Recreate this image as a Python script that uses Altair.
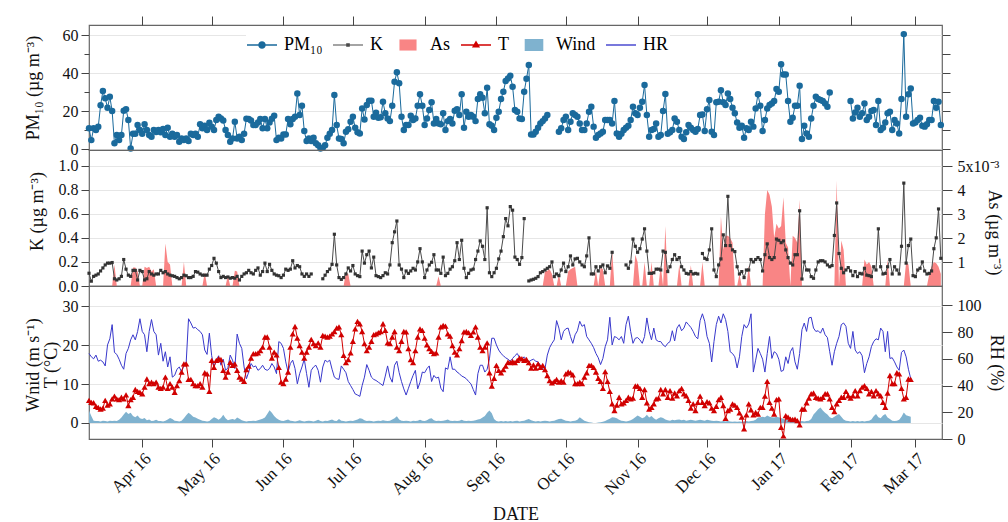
import altair as alt
import pandas as pd

FONT = "Liberation Serif"
START = "2016-03-09"
N_DAYS = 369

SERIES = ["PM₁₀", "K", "As", "T", "Wind", "HR"]
MONTH_TICKS = [(2016, 4), (2016, 5), (2016, 6), (2016, 7), (2016, 8), (2016, 9),
               (2016, 10), (2016, 11), (2016, 12), (2017, 1), (2017, 2), (2017, 3)]

PM10 = [
    10.9, 4.7, 10.9, 10, 11.7, 23, 30.5, 26.7, 21.7, 27.5,
    20, 3, 7.4, 4.7, 7.4, 20.2, 21, 15.3, 0.3, 8,
    8, 12.6, 10, 8, 13, 10, 7.4, 6.5, 10, 9,
    10, 8.8, 10.5, 7.4, 11.2, 6.5, 8, 6.5, 7.4, 3.9,
    5.6, 4.7, 5.6, 4.2, 8, 7.4, 8, 6.5, 13, 10.9,
    12.3, 10, 13.9, 11.8, 10, 15.3, 17, 16.1, 15, 10,
    7.4, 3.9, 5.6, 14.4, 5.6, 6.5, 4.7, 8, 16, 15.8,
    15, 12.6, 12.6, 14, 15.8, 10.9, 15.8, 10.9, 14, 16,
    17.5, 4.7, 6, 5.6, 7.7, 7.7, 15.8, 13, 15.8, 17,
    29.3, 17.9, 22.8, 9.5, 4.2, 5.6, 4.2, 6, 3, 2,
    0.3, 0.7, 2, 6, 8, 10, 28.4, 12.6, 5.6, 5.3,
    3, 9.1, 10.4, 14.4, 17, 11.2, 8.8, 8.2, 21.4, 15.6,
    23.2, 25.4, 25.4, 17, 19.1, 16.5, 16.7, 24.9, 18.8, 16.1,
    14.7, 22.8, 35.4, 40.4, 34.6, 17, 10, 12.6, 12.6, 17.5,
    15.3, 16.1, 22.8, 28.8, 22.8, 12.6, 16.1, 20.5, 24.6, 13.5,
    15.8, 13.5, 13, 18.8, 10, 14.7, 15.8, 13.5, 20.2, 21,
    17.9, 28.8, 11.2, 19.6, 17, 17.9, 17, 14.7, 26.3, 28.8,
    27, 18.8, 32.3, 13, 12.3, 10, 16.5, 19.6, 26.3, 30.2,
    35.8, 37.2, 38.6, 32.8, 20.5, 19.6, 16.1, 15.8, 30.2, 37,
    44.2, 7.7, 7.7, 9.1, 11.2, 13.5, 14.7, 16.1, 17.9, None,
    None, None, None, 9.1, 10.9, 15.3, 17, 10, 14.4, 18.8,
    17.9, 17, 13.5, 10, 10, 13.5, 19.6, 22.3, 11.8, 6,
    7.4, 8.2, 9.1, 15.3, 15.3, 15.3, 13.5, 25.3, 8.2, 6.5,
    8, 10, 11.2, 12.3, 15.3, 22.3, 18.8, 17.9, 21.7, 24.9,
    33.7, 17.9, 6.5, 10, 10.5, 13.5, 6.5, 7.4, 20, 29,
    8, 8.8, 10, 16.1, 14.4, 10, 6.5, 5.3, 8.8, 12.6,
    11.2, 10, 9.1, 10.5, 17.9, 18.2, 9.5, 21, 25.8, 9.1,
    7.4, 24.6, 24.9, 31, 24.6, 23.2, 29.3, 26.3, 21.7, 18.8,
    14, 11.2, 12.3, 6, 10.9, 10, 14.4, 11.8, 21.4, 28.8,
    22.8, 9.5, 15.3, 21.4, 23.2, 24, 25.3, 31.6, 30.2, 44.6,
    39.3, 39.3, 25.3, 14.4, 16.5, 22.8, 22.8, 33.3, 5.3, 12.3,
    8.2, 6.5, 16.1, 22.8, 27.5, 26.3, 25.8, 25.3, 24, 22.3,
    29.8, None, None, None, None, None, None, None, None, 25.3,
    16.1, 19.3, 21.7, 17, 18.8, 24, 15.3, 17, 20, 20.5,
    12.6, 25.3, 10, 11.2, 14, 18.8, 19.6, 10, 15.3, 13.5,
    8.2, 26.3, 60.5, 17, 28.8, 31.9, 13.5, 14, 15.3, 16.5,
    12.3, 11.8, 13, 15.3, 15.3, 25.3, 21.7, 24.9, 12.6,
]

K = [
    0.106, 0.04, 0.08, 0.09, 0.1, 0.125, 0.15, 0.175, 0.19, 0.19,
    0.195, 0.06, 0.05, 0.06, 0.08, 0.22, 0.14, 0.09, 0.08, 0.13,
    0.13, 0.05, 0.13, 0.12, 0.05, 0.06, 0.12, 0.1, 0.09, 0.1,
    0.1, 0.13, 0.11, 0.12, 0.1, 0.09, 0.085, 0.08, 0.07, 0.06,
    0.07, 0.09, 0.085, 0.07, 0.07, 0.08, 0.12, 0.115, 0.1, 0.09,
    0.09, 0.09, 0.14, 0.17, 0.23, 0.19, 0.12, 0.07, 0.08, 0.07,
    0.075, 0.065, 0.07, 0.065, 0.08, 0.05, 0.08, 0.1, 0.11, 0.13,
    0.11, 0.1, 0.13, 0.15, 0.09, 0.12, 0.19, 0.12, 0.18, 0.13,
    0.1, 0.09, 0.085, 0.07, 0.09, 0.14, 0.13, 0.14, 0.21, 0.15,
    0.17, 0.16, 0.1, 0.08, 0.1, 0.08, 0.1, None, None, None,
    None, 0.06, 0.09, 0.12, 0.14, 0.18, 0.43, 0.175, 0.07, 0.055,
    0.07, 0.1, 0.15, 0.125, 0.17, 0.1, 0.086, 0.078, 0.29, 0.19,
    0.26, 0.29, 0.15, 0.24, 0.086, 0.078, 0.07, 0.086, 0.11, 0.1,
    0.175, 0.36, 0.45, 0.54, 0.175, 0.14, 0.07, 0.125, 0.105, 0.125,
    0.147, 0.133, 0.2, 0.31, 0.2, 0.07, 0.133, 0.175, 0.197, 0.26,
    0.133, 0.133, 0.105, 0.24, 0.086, 0.105, 0.14, 0.16, 0.21, 0.36,
    0.22, 0.38, 0.147, 0.07, 0.105, 0.133, 0.14, 0.22, 0.29, 0.375,
    0.33, 0.22, 0.65, 0.11, 0.078, 0.11, 0.147, 0.225, 0.29, 0.41,
    0.56, 0.5, 0.66, 0.63, 0.24, 0.22, 0.18, 0.236, 0.56, None,
    0.042, 0.05, 0.056, 0.064, 0.078, 0.11, 0.12, 0.133, 0.147, 0.16,
    0.2, 0.078, 0.1, 0.086, 0.133, 0.19, 0.12, 0.16, 0.25, 0.175,
    0.225, 0.23, 0.2, 0.175, 0.16, 0.25, 0.4, 0.1, 0.1, 0.16,
    0.125, 0.16, 0.175, 0.11, 0.167, 0.147, 0.28, None, None, None,
    None, None, 0.175, 0.147, 0.2, 0.39, 0.33, 0.28, 0.31, 0.39,
    0.475, 0.29, 0.105, 0.105, 0.11, 0.14, 0.14, 0.133, 0.29, 0.28,
    0.12, 0.16, 0.22, 0.26, 0.22, 0.236, 0.16, 0.133, 0.105, 0.1,
    0.12, 0.1, 0.105, 0.1, None, 0.27, 0.23, 0.22, 0.3, 0.475,
    0.133, 0.078, 0.175, 0.225, 0.425, 0.336, 0.745, 0.336, 0.3, 0.286,
    0.16, 0.1, 0.12, 0.07, 0.133, 0.133, 0.22, 0.2, 0.22, 0.236,
    0.22, 0.125, 0.26, 0.35, 0.236, 0.22, 0.236, 0.39, 0.38, 0.36,
    0.375, 0.3, 0.236, 0.19, 0.175, 0.26, 0.26, 0.625, 0.058, 0.2,
    0.133, 0.133, 0.078, 0.064, 0.133, 0.2, 0.21, 0.21, 0.2, 0.175,
    0.16, 0.17, 0.42, 0.69, 0.27, 0.147, 0.11, 0.133, 0.153, 0.125,
    0.086, 0.12, 0.078, 0.105, 0.1, 0.147, 0.09, 0.086, 0.078, 0.16,
    0.133, 0.475, 0.16, 0.1, 0.105, 0.16, 0.22, 0.1, 0.16, 0.133,
    0.1, 0.33, 0.855, 0.19, 0.336, 0.39, 0.086, 0.078, 0.133, 0.147,
    0.2, 0.125, 0.1, 0.105, 0.125, 0.31, 0.4, 0.64, 0.23,
]

AS_DAY = [11, 19, 20, 21, 24, 25, 26, 27, 28, 33, 34, 35, 41, 50, 60, 63, 64,
          111, 112, 151, 197, 198, 199, 200, 203, 207, 208, 209, 210, 219, 221, 222,
          226, 236, 237, 240, 243, 247, 249, 255, 260, 265,
          273, 274, 275, 276, 277, 278, 281, 285,
          292, 293, 294, 295, 296, 297, 298, 299, 300, 301, 302,
          304, 305, 306, 307, 323, 325, 326, 335, 336, 337, 338, 345, 353, 354,
          363, 364, 365, 366, 367, 368]
AS_VAL = [0.9, 0.77, 0.77, 0.6, 0.8, 0.75, 0.8, 0.6, 0.7, 1.77, 1.0, 0.9, 1.0, 0.57, 0.44, 0.64, 0.6,
          0.57, 0.5, 0.41, 0.6, 0.64, 0.7, 0.5, 0.5, 0.6, 0.7, 0.75, 0.8, 0.64, 0.77, 0.7,
          1.5, 1.3, 1.0, 1.0, 1.0, 0.85, 2.5, 0.9, 0.87, 1.0,
          2.9, 1.5, 2.1, 2.1, 2.0, 1.8, 0.5, 0.85,
          3.0, 4.0, 3.8, 3.3, 2.0, 2.6, 2.4, 2.5, 3.7, 1.8, 1.6,
          2.1, 2.0, 1.8, 3.6, 4.4, 1.9, 1.5, 1.1, 0.9, 1.0, 0.8, 1.1, 1.0, 0.9,
          0.5, 0.8, 1.0, 0.95, 0.8, 0.5]

T = [
    5.8, 5.3, 5.2, 4.3, 4, 3.6, 3.8, 5.8, 4.6, 4.9,
    6.2, 6.9, 6.2, 6, 6.6, 6.2, 7.2, 4.5, 6, 6.6,
    8.6, 8.1, 7.9, 7.5, 9.2, 11.3, 10.1, 10.5, 10.1, 10.5,
    9.2, 8.9, 9.2, 11.8, 8.9, 10.1, 9.2, 7.9, 9.6, 10.9,
    13.1, 15.2, 15.2, 11.2, 11.2, 10.1, 9.6, 9.6, 10.1, 9.2,
    12.9, 12.6, 8.1, 16.1, 14.3, 16.1, 16.5, 16.3, 13.5, 11.8,
    13.1, 15.6, 14.8, 15.2, 13.5, 11.8, 11.3, 10.7, 13.7, 14.6,
    16.7, 17.8, 17.8, 18, 18.6, 19.5, 22.1, 22.1, 19.5, 16.7,
    18.2, 17.5, 14.3, 10.5, 10.1, 11.3, 13.1, 19.5, 22.9, 24.8,
    21.8, 19.9, 18.2, 16.7, 18.2, 19.5, 21.5, 20.4, 19.9, 20.6,
    19.5, 22.5, 22.3, 22.1, 22.3, 22.9, 23.5, 24.4, 24.7, 22.7,
    17.4, 15.5, 16.3, 18, 21, 24.2, 26.1, 25.5, 23.5, 20.4,
    18.6, 19.5, 21, 22.7, 22.9, 23.2, 23.5, 25.5, 23.8, 20.6,
    20.4, 22.1, 23.5, 19.5, 18.6, 21, 23.5, 23.4, 19.1, 16.3,
    15.5, 18.6, 22.1, 24.2, 23.8, 21.8, 20.1, 19.1, 18.4, 17.8,
    18, 22.1, 24.7, 25.1, 24.9, 22.9, 22.3, 19.9, 18.2, 17.5,
    19.1, 21.2, 23.4, 23.5, 23.2, 22.5, 23.4, 24.7, 22.1, 19.5,
    18.6, 19.5, 20.6, 12.9, 9.5, 11.5, 14.8, 13.5, 12.9, 13.7,
    14.6, 15.6, 15.5, 15.8, 15.5, 16.1, 16.7, 16.5, 16.1, 16.3,
    15.5, 14.1, 14.9, 14.1, 15.2, 14.3, 14.8, 13.7, 12.2, 10.9,
    10.3, 10.7, 11.2, 10.5, 10.9, 10.5, 12.6, 13.1, 12.9, 12.4,
    10.1, 10.1, 10.5, 10.1, 11.8, 12.9, 14.8, 14.8, 14.3, 13.1,
    11.5, 10.7, 8.9, 13.2, 10.7, 8.1, 4.9, 3.2, 4.6, 6.6,
    4.9, 5.2, 5.8, 6.6, 6.2, 6.4, 9.5, 9.5, 8.9, 6.6,
    8.6, 5.2, 3.6, 4, 4.9, 6.2, 6.4, 8.6, 7.5, 8.6,
    6.6, 8.3, 6.4, 7.7, 7, 8.3, 8.9, 7.5, 7, 5.8,
    3.8, 4.9, 3.2, 5.3, 6.9, 5.3, 4.5, 5.5, 5.2, 3.8,
    3.2, 4.3, 6, 6.6, 4.5, 1.2, 3.2, 3.6, 4.9, 4.6,
    4, 2.6, 1.5, -1.5, 2.1, 4.9, 3.4, 2.1, 2.7, 2.3,
    4, 4, 6.9, 10.7, 5.3, 3.8, 2.3, 6, 6.2, -1.1,
    -3.3, 1.9, 1.5, 1, 0.9, 1, 0.6, -0.5, 3.6, 3.6,
    5.2, 6.4, 7.5, 7.7, 6.6, 6.4, 6.2, 6.6, 7.5, 7.5,
    6.2, 4, 2.9, 4.9, 5.8, 6.6, 6.6, 8.1, 7, 6.4,
    7, 8.3, 7, 8.3, 9.2, 9.6, 8.9, 7.5, 8.1, 7,
    8.3, 7.5, 7, 5.3, 4, 7.7, 12.2, 10.1, 10.1, 12.9,
    12.6, 8.9, 6.2, 6.6, 11.3, 11.2,
]

RH = [
    64, 61.5, 60, 62.8, 58.2, 59, 57.7, 54.7, 70.4, 75,
    85.6, 64.8, 63.3, 59.7, 55.2, 52.2, 64, 67.8, 74.2, 78,
    74.2, 80.5, 90, 80.5, 78, 65.3, 80.5, 89.4, 80.5, 78,
    62.8, 71.6, 58.2, 65.3, 53.9, 61.5, 46.3, 47.6, 52.2, 53.9,
    50.1, 55.2, 57.7, 90, 86.8, 83, 83.5, 81.8, 80.5, 78,
    66.6, 63.3, 79.2, 62.3, 53.9, 59, 62.3, 55.2, 59.7, 51.4,
    53.2, 62.8, 59, 52.7, 78.5, 71.6, 67.8, 53.9, 45.1, 50.1,
    56.5, 53.9, 54.7, 51.4, 52.7, 55.2, 52.2, 51.4, 52.7, 56.5,
    53.9, 48.9, 72.9, 71.6, 67.8, 57.7, 50.1, 56.5, 59, 52.7,
    41.3, 48.9, 53.9, 59.7, 48.9, 38.7, 51.4, 53.9, 55.2, 51.4,
    42.5, 53.9, 59, 57.7, 59, 52.2, 46.3, 45.1, 44.6, 54.7,
    52.2, 49.6, 43, 40, 37, 33.7, 32.9, 31.9, 40, 46.3,
    55.7, 51.4, 46.3, 44.6, 43.8, 42.5, 41.3, 40, 47.1, 54.7,
    46.3, 42.5, 55.2, 58.2, 49.6, 43, 37.5, 32.9, 38, 43,
    47.6, 51.4, 37.5, 42.5, 50.1, 49.6, 52.7, 54.7, 43, 47.6,
    45.6, 46.3, 38, 35.4, 53.2, 52.2, 61.5, 52.2, 52.2, 50.1,
    48.9, 47.1, 46.3, 45.1, 43, 41.3, 37, 32.9, 48.9, 55.2,
    55.2, 50.1, 52.2, 60, 75.4, 75.4, 70.4, 66.6, 64, 62.3,
    60.8, 59.7, 58.2, 60.3, 62.3, 64, 60.8, 59.7, 61.5, 59.7,
    57.7, 59, 59.7, 58.2, 57.7, 55.2, 52.2, 52.7, 62.8, 68.4,
    71.6, 74.2, 88.6, 83, 74.2, 80.5, 82.5, 83, 76.7, 71.6,
    78, 81, 88.1, 84.3, 85.6, 76.7, 74.2, 71.6, 68.4, 64,
    60.8, 55.7, 60.3, 69.1, 74.2, 91.1, 70.4, 76.7, 75.9, 74.2,
    76.7, 71.6, 85.6, 91.9, 80.5, 71.6, 75.4, 75.9, 74.2, 71.6,
    76.7, 90.6, 80.5, 74.2, 83, 74.2, 73, 72.9, 70.4, 69.1,
    71.6, 72.9, 81, 73.4, 83, 85.6, 81, 83, 87.6, 85.6,
    83.5, 80.5, 76.7, 75, 88.6, 93.7, 88.1, 76.7, 71.6, 57.7,
    72.9, 85.6, 91.9, 86.8, 93.7, 89.4, 80.5, 65.3, 64, 61.5,
    53.2, 61.5, 76.7, 85.6, 83, 86, 93.7, 50.1, 59, 67.8,
    64, 59.7, 50.1, 64, 76.7, 60.3, 65.3, 64, 59.7, 50.6,
    51.4, 61.5, 56.5, 65.3, 68.4, 57.7, 52.2, 64, 81.8, 86.8,
    80.5, 90.6, 91.1, 83, 80.5, 81, 79.2, 83, 78, 75.9,
    65.3, 55.2, 65.3, 71.6, 76.7, 85.6, 86.8, 84.3, 71.6, 67.8,
    80.5, 66.6, 64, 65.3, 62.3, 49.6, 56.5, 61.5, 69.1, 72.9,
    75, 74.2, 83, 80.5, 65.3, 80.5, 60.3, 60.8, 57.7, 53.9,
    51.4, 64.8, 66.6, 61.5, 52.2, 45.1,
]

WIND = [
    3.2, 1.8, 0.6, 0.5, 0.5, 0.4, 0.6, 0.5, 0.4, 0.6,
    0.5, 0.6, 0.5, 0.8, 1.4, 2.2, 2.9, 2.3, 2.6, 1.8,
    1.5, 1.9, 1.2, 1.0, 1.3, 0.7, 0.9, 0.5, 0.6, 0.8,
    0.5, 0.5, 0.4, 0.6, 0.9, 1.3, 1.0, 0.6, 0.5, 0.4,
    0.6, 1.2, 2.0, 2.6, 2.2, 1.6, 1.4, 1.1, 0.8, 0.6,
    0.5, 0.4, 0.5, 1.0, 1.5, 1.2, 0.8, 1.3, 2.1, 1.2,
    0.7, 0.9, 1.0, 0.8, 1.4, 1.1, 0.7, 0.5, 0.4, 0.5,
    0.5, 0.6, 0.5, 0.7, 0.9, 1.1, 1.4, 2.3, 3.3, 2.6,
    1.8, 1.2, 0.8, 0.6, 0.5, 0.7, 0.9, 0.6, 0.5, 0.4,
    0.5, 0.7, 0.5, 0.4, 0.5, 0.6, 0.5, 0.4, 0.6, 0.8,
    0.5, 0.4, 0.6, 0.5, 0.7, 0.9, 0.6, 0.5, 1.0, 0.6,
    0.5, 0.4, 0.5, 0.6, 0.5, 0.7, 0.9, 1.2, 1.1, 0.7,
    0.5, 0.6, 0.5, 0.4, 0.5, 0.6, 0.5, 0.7, 0.6, 0.5,
    0.6, 0.9, 1.2, 1.7, 0.9, 0.6, 0.5, 0.6, 0.5, 0.4,
    0.6, 0.5, 0.6, 0.8, 0.6, 0.5, 0.7, 1.1, 1.2, 0.7,
    0.5, 0.6, 0.5, 0.6, 0.7, 0.9, 0.6, 0.5, 0.6, 0.5,
    0.6, 0.8, 0.6, 0.5, 0.6, 0.5, 0.6, 0.7, 0.9, 1.0,
    1.4, 1.8, 2.6, 3.2, 2.5, 1.0, 0.5, 0.4, 0.5, 0.4,
    0.5, 0.4, 0.5, 0.4, 0.5, 0.6, 0.4, 0.5, 0.6, 0.8,
    1.0, 0.7, 0.5, 0.4, 0.5, 0.4, 0.5, 0.6, 0.5, 0.4,
    0.5, 0.6, 0.8, 1.0, 1.1, 0.8, 0.6, 0.5, 0.4, 0.5,
    0.6, 0.8, 1.5, 1.0, 0.6, 0.4, 0.2, 0.1, 0.0, 0.0,
    0.1, 0.2, 0.3, 0.5, 0.8, 1.1, 1.5, 1.4, 1.2, 0.8,
    0.6, 0.5, 0.4, 0.5, 0.7, 1.0, 1.5, 1.9, 1.6, 1.2,
    1.5, 2.1, 1.4, 1.8, 1.2, 0.8, 1.2, 1.5, 1.3, 0.9,
    0.7, 0.6, 0.8, 0.7, 0.8, 0.9, 0.7, 0.8, 0.6, 0.7,
    0.8, 0.7, 0.6, 0.7, 0.8, 0.7, 0.6, 0.8, 0.7, 0.6,
    0.5, 0.6, 0.5, 0.4, 0.5, 0.4, 0.5, 0.4, 0.3, 0.4,
    0.3, 0.4, 0.3, 0.4, 0.5, 0.4, 0.5, 0.6, 0.8, 1.4,
    1.5, 1.6, 1.5, 1.9, 1.6, 1.5, 1.4, 1.6, 1.5, 1.3,
    1.0, 0.8, 0.9, 0.8, 0.7, 0.6, 0.5, 0.4, 0.5, 0.4,
    0.5, 0.6, 1.0, 2.2, 2.8, 3.5, 4.0, 3.2, 2.6, 2.2,
    1.5, 1.2, 1.6, 2.0, 2.3, 1.6, 0.9, 0.6, 0.5, 0.4,
    0.5, 0.4, 0.5, 0.4, 0.5, 0.4, 0.5, 0.6, 0.9, 1.7,
    2.3, 1.5, 1.2, 1.9, 2.3, 1.4, 1.0, 0.6, 0.5, 0.6,
    0.8, 1.6, 2.7, 2.0, 1.8, 1.6,
]

C_PM = "#1a6a9c"
C_K = "#4a4a4a"
C_AS = "#f98585"
C_T = "#d10000"
C_WIND = "#7fb2cf"
C_HR = "#3838cc"
LEG_COLORS = [C_PM, C_K, C_AS, C_T, C_WIND, C_HR]
LEG_PATHS = [
    "M-1,-0.045H1V0.045H-1ZM0.25,0A0.25,0.25,0,1,1,-0.25,0A0.25,0.25,0,1,1,0.25,0Z",
    "M-1,-0.04H1V0.04H-1ZM-0.12,-0.12H0.12V0.12H-0.12Z",
    "M-0.57,-0.37H0.57V0.37H-0.57Z",
    "M-1,-0.045H1V0.045H-1ZM0,-0.3L0.27,0.16H-0.27Z",
    "M-0.62,-0.4H0.62V0.4H-0.62Z",
    "M-1,-0.045H1V0.045H-1Z",
]


def fit(lst):
    lst = list(lst)[:N_DAYS]
    return lst + [None] * (N_DAYS - len(lst))


as_full = [0.0] * N_DAYS
for d, v in zip(AS_DAY, AS_VAL):
    as_full[d] = v * 1e-3

dates = pd.date_range(START, periods=N_DAYS, freq="D").strftime("%Y-%m-%d")
df = pd.DataFrame({
    "date": list(dates),
    "pm10": fit(PM10),
    "k": fit(K),
    "as_": as_full,
    "t": fit(T),
    "rh": fit(RH),
    "wind": fit(WIND),
})
df["pm_seg"] = df["pm10"].isna().cumsum()
df["k_seg"] = df["k"].isna().cumsum()

xs = alt.Scale(type="utc", domain=[alt.DateTime(year=2016, month=3, date=9, utc=True),
                                   alt.DateTime(year=2017, month=3, date=12, hours=12, utc=True)])
tick_vals = [alt.DateTime(year=y, month=m, date=1, utc=True) for y, m in MONTH_TICKS]

W = 853
H1, H2, H3 = 125, 136, 153
LBL = 16

x_top = alt.X("date:T", scale=xs, title=None,
              axis=alt.Axis(orient="top", values=tick_vals, labels=False, tickSize=9,
                            domain=False, grid=False))
pm_scale = alt.Scale(domain=[-0.5, 65.3], nice=False, zero=False)
major20 = "datum.value % 20 == 0"
pm_line = alt.Chart(df).transform_filter("isValid(datum.pm10)").mark_line(
    color=C_PM, strokeWidth=1,
    point=alt.OverlayMarkDef(filled=True, size=42, color=C_PM, opacity=1)
).encode(
    x=x_top,
    y=alt.Y("pm10:Q", scale=pm_scale,
            axis=alt.Axis(orient="left", values=list(range(0, 70, 10)),
                          labelExpr=f"{major20} ? datum.label : ''",
                          tickSize={"condition": {"test": major20, "value": 8}, "value": 5},
                          grid=True,
                          gridOpacity={"condition": {"test": major20, "value": 1}, "value": 0},
                          domain=False, title="PM₁₀ (µg m⁻³)",
                          titleX=-56, titleY=H1 / 2, titleAlign="center", titleBaseline="middle")),
    detail="pm_seg:N",
)
pm_right = alt.Chart(df).transform_filter("isValid(datum.pm10)").mark_point(opacity=0).encode(
    x=x_top,
    y=alt.Y("pm10:Q", scale=pm_scale,
            axis=alt.Axis(orient="right", values=list(range(0, 70, 10)), labels=False,
                          tickSize=8, grid=False, domain=False, title=None)),
)
leg = alt.Legend(title=None, orient="none", legendX=157, legendY=4, direction="horizontal",
                 columns=6, symbolSize=900, symbolStrokeWidth=0, symbolOpacity=1,
                 labelFont=FONT, labelFontSize=18, labelColor="black", labelOffset=7,
                 columnPadding=10, padding=1, fillColor="white")
leg_layer = alt.Chart(pd.DataFrame({"series": SERIES})).transform_filter("false").mark_point(
    filled=True, opacity=1
).encode(
    color=alt.Color("series:N", scale=alt.Scale(domain=SERIES, range=LEG_COLORS), legend=leg),
    shape=alt.Shape("series:N", scale=alt.Scale(domain=SERIES, range=LEG_PATHS), legend=leg),
)
p1 = alt.layer(pm_line, pm_right, leg_layer).resolve_scale(y="independent").properties(width=W, height=H1)

x_none = alt.X("date:T", scale=xs, axis=None)
as_area = alt.Chart(df).mark_area(color=C_AS, opacity=1).encode(
    x=x_none,
    y=alt.Y("as_:Q", scale=alt.Scale(domain=[0, 0.00567], nice=False, zero=False),
            axis=alt.Axis(orient="right", values=[0.001, 0.002, 0.003, 0.004, 0.005],
                          labelExpr="datum.value > 0.0045 ? '5x10⁻³' : format(datum.value * 1000, '.0f')",
                          tickSize=10, labelPadding=5, grid=False, domain=False,
                          title="As (µg m⁻³)", titleX=51, titleY=82, titleAngle=90,
                          titleAlign="center", titleBaseline="middle")),
)
k_line = alt.Chart(df).transform_filter("isValid(datum.k)").mark_line(
    color=C_K, strokeWidth=1,
    point=alt.OverlayMarkDef(shape="square", filled=True, size=10, color="#333333", opacity=1)
).encode(
    x=x_none,
    y=alt.Y("k:Q", scale=alt.Scale(domain=[0, 1.13], nice=False, zero=False),
            axis=alt.Axis(orient="left", values=[0, 0.2, 0.4, 0.6, 0.8, 1.0], format=".1f",
                          tickSize=8, grid=True, domain=False, title="K (µg m⁻³)",
                          titleX=-52, titleY=61, titleAlign="center", titleBaseline="middle")),
    detail="k_seg:N",
)
p2 = alt.layer(as_area, k_line).resolve_scale(y="independent").properties(width=W, height=H2)

x_bot = alt.X("date:T", scale=xs, title="DATE",
              axis=alt.Axis(orient="bottom", values=tick_vals, format="%b %y", labelAngle=-45,
                            tickSize=8, domain=False, grid=False, labelFontSize=17,
                            titleFontSize=18, titlePadding=7))
t_scale = alt.Scale(domain=[-4.12, 35.2], nice=False, zero=False)
wind = alt.Chart(df).transform_filter("isValid(datum.wind)").mark_area(color=C_WIND, opacity=1).encode(
    x=x_bot,
    y=alt.Y("wind:Q", scale=t_scale,
            axis=alt.Axis(orient="left", values=[0, 10, 20, 30], tickSize=8, grid=True,
                          domain=False, title=["Wnid (m s⁻¹)", "T (°C)"],
                          titleX=-56, titleY=H3 / 2 + 2, titleAlign="center",
                          titleBaseline="middle", titleLineHeight=18)),
    y2=alt.datum(0),
)
rh = alt.Chart(df).transform_filter("isValid(datum.rh)").mark_line(color=C_HR, strokeWidth=1).encode(
    x=x_bot,
    y=alt.Y("rh:Q", scale=alt.Scale(domain=[0, 114.5], nice=False, zero=False),
            axis=alt.Axis(orient="right", values=[0, 20, 40, 60, 80, 100], tickSize=10,
                          labelPadding=5, grid=False, domain=False, title="RH (%)",
                          titleX=53, titleY=H3 / 2, titleAngle=90, titleAlign="center",
                          titleBaseline="middle")),
)
t_line = alt.Chart(df).transform_filter("isValid(datum.t)").mark_line(
    color=C_T, strokeWidth=1,
    point=alt.OverlayMarkDef(shape="triangle-up", filled=True, size=38, color=C_T, opacity=1)
).encode(
    x=x_bot,
    y=alt.Y("t:Q", scale=t_scale, axis=None),
)
p3 = alt.layer(wind, rh, t_line).resolve_scale(y="independent").properties(width=W, height=H3)

chart = alt.vconcat(p1, p2, p3, spacing=0, bounds="flush").properties(
    padding={"left": 23, "top": 14, "right": 0, "bottom": 0},
).configure(font=FONT).configure_view(
    stroke="#666666", strokeWidth=1.2
).configure_axis(
    labelFont=FONT, titleFont=FONT, labelFontSize=LBL, titleFontSize=18,
    titleFontWeight="normal", labelColor="#111111", titleColor="#111111",
    tickColor="#444444", tickWidth=1, gridColor="#e6e6e6", gridWidth=1, labelPadding=3,
)

chart.save("out.html", embed_options={"renderer": "svg", "actions": False})
